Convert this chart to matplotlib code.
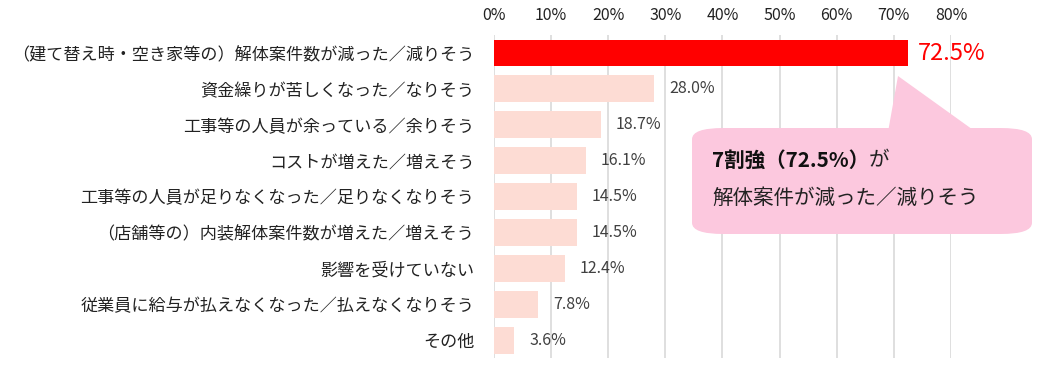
import matplotlib
matplotlib.use("Agg")
import matplotlib.pyplot as plt
from matplotlib.patches import FancyBboxPatch, Polygon

plt.rcParams['font.family'] = ['Noto Sans CJK JP', 'DejaVu Sans']

categories = ["（建て替え時・空き家等の）解体案件数が減った／減りそう",
              "資金繰りが苦しくなった／なりそう",
              "工事等の人員が余っている／余りそう",
              "コストが増えた／増えそう",
              "工事等の人員が足りなくなった／足りなくなりそう",
              "（店舗等の）内装解体案件数が増えた／増えそう",
              "影響を受けていない",
              "従業員に給与が払えなくなった／払えなくなりそう",
              "その他"]
values = [72.5, 28.0, 18.7, 16.1, 14.5, 14.5, 12.4, 7.8, 3.6]
ticks = [0, 10, 20, 30, 40, 50, 60, 70, 80]
tick_labels = ["0%", "10%", "20%", "30%", "40%", "50%", "60%", "70%", "80%"]

fig = plt.figure(figsize=(10.44, 3.73), dpi=100)
ax = fig.add_axes([0.473, 0.040, 0.438, 0.866])

colors = ["#FF0000"] + ["#FDDCD4"] * (len(values) - 1)
ypos = list(range(len(values)))
ax.barh(ypos, values, height=0.75, color=colors, zorder=2)

ax.set_xlim(0, 80)
ax.set_ylim(len(values) - 0.5, -0.5)
ax.set_xticks(ticks)
ax.set_xticklabels(tick_labels, fontsize=11.5, color="#222222")
ax.xaxis.tick_top()
ax.tick_params(axis="x", length=0, pad=8)
ax.set_yticks(ypos)
ax.set_yticklabels(categories, fontsize=12.3, color="#222222")
ax.tick_params(axis="y", length=0, pad=14)
ax.grid(axis="x", color="#D9D9D9", linewidth=1.2, zorder=0)
for s in ax.spines.values():
    s.set_visible(False)

for i, v in enumerate(values):
    if i == 0:
        ax.annotate("%.1f%%" % v, (v, i), xytext=(7, 0), textcoords="offset points",
                    va="center", ha="left", fontsize=17, color="#FF0000")
    else:
        ax.annotate("%.1f%%" % v, (v, i), xytext=(11, 0), textcoords="offset points",
                    va="center", ha="left", fontsize=11.5, color="#404040")

# callout bubble (figure pixel coords)
W, H = 1044.0, 373.0
pink = "#FCC8DE"
box = FancyBboxPatch((692 / W, 1 - 234 / H), (1032 - 692) / W, (234 - 128) / H,
                     boxstyle="round,pad=0,rounding_size=0.03", transform=fig.transFigure,
                     facecolor=pink, edgecolor="none", zorder=5)
fig.patches.append(box)
tail = Polygon([(888 / W, 1 - 132 / H), (898 / W, 1 - 76 / H), (976 / W, 1 - 132 / H)],
               closed=True, transform=fig.transFigure, facecolor=pink, edgecolor="none", zorder=5)
fig.patches.append(tail)

t1 = fig.text(712 / W, 1 - 160 / H, "7割強（72.5%）", fontsize=14.8, fontweight="bold",
              color="#111111", va="center", ha="left", zorder=6)
fig.canvas.draw()
bb = t1.get_window_extent()
fig.text(bb.x1 / W, 1 - 160 / H, "が", fontsize=14.8, color="#222222",
         va="center", ha="left", zorder=6)
fig.text(712 / W, 1 - 198 / H, "解体案件が減った／減りそう", fontsize=14.8, color="#222222",
         va="center", ha="left", zorder=6)

fig.savefig("out.png", dpi=100)
